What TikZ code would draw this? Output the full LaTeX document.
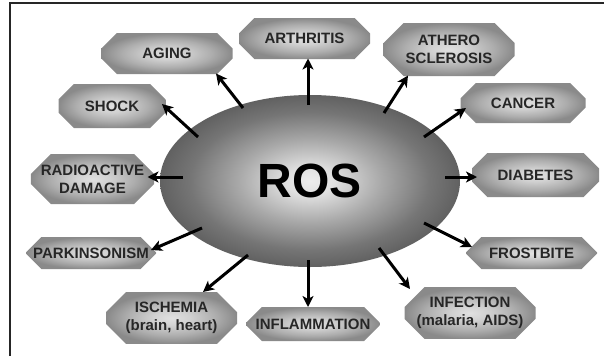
\documentclass[tikz,border=0pt]{standalone}
\usepackage{fontspec}
\setmainfont{Liberation Sans}
\usetikzlibrary{shapes.misc,shapes.geometric,arrows.meta,calc}
\pgfdeclareradialshading{boxshade}{\pgfpoint{0bp}{0bp}}{color(0bp)=(black!12); color(7bp)=(black!18); color(17bp)=(black!32); color(25bp)=(black!46); color(50bp)=(black!46)}
\pgfdeclareradialshading{rosshade}{\pgfpoint{0bp}{0bp}}{color(0bp)=(black!7); color(4bp)=(black!12); color(12bp)=(black!34); color(20bp)=(black!54); color(25bp)=(black!62); color(50bp)=(black!62)}
\tikzset{
  dbox/.style={chamfered rectangle, chamfered rectangle xsep=10pt, chamfered rectangle ysep=10pt,
    chamfered rectangle angle=45, shading=boxshade, inner sep=0pt, align=center,
    font=\fontsize{15}{18}\selectfont\bfseries, text=black!85},
  arr/.style={line width=3pt, -{Stealth[length=11pt,width=11pt,inset=3pt]}},
}
\begin{document}
\begin{tikzpicture}[x=1pt,y=-1pt]
\useasboundingbox (0,0) rectangle (604,356);
\draw[line width=1.1pt, black!85] (10,356) -- (10,3) -- (604,3);

\node[ellipse, shading=rosshade, minimum width=300pt, minimum height=172pt, inner sep=0pt,
  font=\fontsize{48}{48}\selectfont\bfseries] (ros) at (310,181) {ROS};

\node[dbox, minimum width=131pt, minimum height=41pt] (aging) at (167,53.5) {AGING};
\node[dbox, minimum width=131pt, minimum height=41pt] (arth) at (304.5,38.5) {ARTHRITIS};
\node[dbox, minimum width=131pt, minimum height=53pt] (ath) at (449,49.5) {ATHERO\\SCLEROSIS};
\node[dbox, minimum width=107pt, minimum height=44pt] (shock) at (112,106) {SHOCK};
\node[dbox, minimum width=125pt, minimum height=40pt] (cancer) at (523,103) {CANCER};
\node[dbox, minimum width=117pt, minimum height=50pt] (radio) at (92.5,179) {RADIOACTIVE\\DAMAGE};
\node[dbox, minimum width=127pt, minimum height=44pt] (diab) at (535.5,175) {DIABETES};
\node[dbox, minimum width=130pt, minimum height=32pt] (park) at (91,253) {PARKINSONISM};
\node[dbox, minimum width=131pt, minimum height=32pt] (frost) at (531.5,253) {FROSTBITE};
\node[dbox, minimum width=131pt, minimum height=50pt] (isch) at (171.5,318) {ISCHEMIA\\(brain, heart)};
\node[dbox, minimum width=133pt, minimum height=34pt] (infl) at (313,324) {INFLAMMATION};
\node[dbox, minimum width=131pt, minimum height=50pt] (infec) at (470,313) {INFECTION\\(malaria, AIDS)};

\draw[arr] ($(ros.center)+(-67,-73)$) -- ($(aging.center)+(49,20)$);
\draw[arr] ($(ros.center)+(-2,-76)$) -- ($(arth.center)+(3.5,20)$);
\draw[arr] ($(ros.center)+(74,-68)$) -- ($(ath.center)+(-41,26)$);
\draw[arr] ($(ros.center)+(-112,-44)$) -- ($(shock.center)+(50,-2)$);
\draw[arr] ($(ros.center)+(114,-44)$) -- ($(cancer.center)+(-57,5)$);
\draw[arr] ($(ros.center)+(-127,-4)$) -- ($(radio.center)+(55,-2)$);
\draw[arr] ($(ros.center)+(135,-4)$) -- ($(diab.center)+(-58.5,2)$);
\draw[arr] ($(ros.center)+(-108,47)$) -- ($(park.center)+(60,-3)$);
\draw[arr] ($(ros.center)+(114,42)$) -- ($(frost.center)+(-59.5,-6)$);
\draw[arr] ($(ros.center)+(-62,74)$) -- ($(isch.center)+(31.5,-26)$);
\draw[arr] ($(ros.center)+(-2,79)$) -- ($(infl.center)+(-5,-17)$);
\draw[arr] ($(ros.center)+(69,67)$) -- ($(infec.center)+(-60,-24)$);
\end{tikzpicture}
\end{document}
